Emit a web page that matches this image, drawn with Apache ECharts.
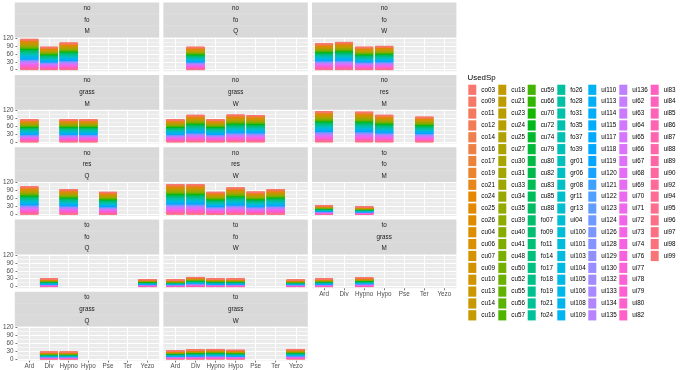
<!DOCTYPE html>
<html>
<head>
<meta charset="utf-8">
<script src="https://cdn.jsdelivr.net/npm/echarts@6/dist/echarts.min.js"></script>
<style>html,body{margin:0;padding:0;background:#fff}#c{width:680px;height:370px}</style>
</head>
<body>
<div id="c"></div>
<script>
// ---------------- DATA ----------------
const CATEGORIES = ['Ard', 'Div', 'Hypno', 'Hypo', 'Pse', 'Ter', 'Yezo'];
const SPECIES = [
  'co03','co09','co11','co12','co14','co16','co17','co19','co21','co24','co25','co26','cu04','cu06','cu07','cu09','cu10','cu13','cu14','cu16',
  'cu18','cu21','cu23','cu24','cu25','cu27','cu30','cu31','cu33','cu34','cu35','cu39','cu40','cu41','cu48','cu50','cu52','cu55','cu56','cu57',
  'cu59','cu66','cu70','cu72','cu74','cu79','cu80','cu82','cu83','cu85','cu88','fo07','fo09','fo11','fo14','fo17','fo18','fo19','fo21','fo24',
  'fo26','fo28','fo31','fo35','fo37','fo39','gr01','gr06','gr08','gr11','gr13','ui04','ui100','ui101','ui103','ui104','ui105','ui106','ui108','ui109',
  'ui110','ui113','ui114','ui115','ui117','ui118','ui119','ui120','ui121','ui122','ui123','ui124','ui126','ui128','ui129','ui130','ui132','ui133','ui134','ui135',
  'ui136','ui62','ui63','ui64','ui65','ui66','ui67','ui68','ui69','ui70','ui71','ui72','ui73','ui74','ui76','ui77','ui78','ui79','ui80','ui82',
  'ui83','ui84','ui85','ui86','ui87','ui88','ui89','ui90','ui92','ui94','ui95','ui96','ui97','ui98','ui99'
];
const PANEL_CUT    = ['no','no','no','no','no','no','no','no','to','to','to','to','to','to'];
const PANEL_HAB    = ['fo','fo','fo','grass','grass','res','res','res','fo','fo','fo','grass','grass','grass'];
const PANEL_SEASON = ['M','Q','W','M','W','M','Q','W','M','Q','W','M','Q','W'];
const Y_TICKS = [0, 30, 60, 90, 120];
const Y_MINOR = [15, 45, 75, 105];

// Bar totals per panel, in CATEGORIES order (null = no bar)
const no_fo_M    = [116, 86, 102, null, null, null, null];
const no_fo_Q    = [null, 86, null, null, null, null, null];
const no_fo_W    = [99, 104, 86, 89, null, null, null];
const no_grass_M = [85, null, 85, 85, null, null, null];
const no_grass_W = [85, 102, 85, 103, 101, null, null];
const no_res_M   = [116, null, 114, 102, null, 95, null];
const no_res_Q   = [105, null, 94, null, 84, null, null];
const no_res_W   = [113, 113, 84, 101, 85, 94, null];
const to_fo_M    = [33, null, 28, null, null, null, null];
const to_fo_Q    = [null, 29, null, null, null, null, 27];
const to_fo_W    = [25, 35, 29, 29, null, null, 25];
const to_grass_M = [29, null, 33, null, null, null, null];
const to_grass_Q = [null, 26, 26, null, null, null, null];
const to_grass_W = [30, 34, 36, 33, null, null, 36];
const TOTALS = [no_fo_M, no_fo_Q, no_fo_W, no_grass_M, no_grass_W, no_res_M, no_res_Q, no_res_W,
                to_fo_M, to_fo_Q, to_fo_W, to_grass_M, to_grass_Q, to_grass_W];
// Individual species segments are too thin to read; each bar is split evenly across species.

// ---------------- STYLE / LAYOUT ----------------
const FONT = 'Liberation Sans, Arial, sans-serif';
const LEFT0 = 14.8, PANEL_W = 144.4, GAP_X = 4.2;
const TOP0 = 2.6, STRIP_H = 34.8, PANEL_H = 33.9, ROW_PITCH = 72.3;
const Y_MIN = -6, Y_MAX = 122.5, X_MIN = 0.4, X_MAX = 7.6;
const BAR_W = 0.9 * PANEL_W / (X_MAX - X_MIN);
const LEGEND_X = [468.3, 498.3, 527.7, 557.3, 588.3, 619.3, 650.7];
const LEGEND_ROWS = 20;

function hclHex(h, c, l) {
  const hr = h * Math.PI / 180;
  const U = c * Math.cos(hr), V = c * Math.sin(hr);
  const Xn = 95.047, Yn = 100.0, Zn = 108.883;
  const un = 4 * Xn / (Xn + 15 * Yn + 3 * Zn), vn = 9 * Yn / (Xn + 15 * Yn + 3 * Zn);
  const Y = l > 7.999592 ? Yn * Math.pow((l + 16) / 116, 3) : Yn * l / 903.3;
  const u = U / (13 * l) + un, v = V / (13 * l) + vn;
  const X = 9 * Y * u / (4 * v);
  const Z = -X / 3 - 5 * Y + 3 * Y / v;
  const x = X / 100, y = Y / 100, z = Z / 100;
  const lin = [
    3.240479 * x - 1.537150 * y - 0.498535 * z,
    -0.969256 * x + 1.875992 * y + 0.041556 * z,
    0.055648 * x - 0.204043 * y + 1.057311 * z
  ];
  return '#' + lin.map(t => {
    t = t > 0.00304 ? 1.055 * Math.pow(t, 1 / 2.4) - 0.055 : 12.92 * t;
    t = Math.max(0, Math.min(1, t));
    return Math.round(t * 255).toString(16).padStart(2, '0');
  }).join('');
}
const COLORS = SPECIES.map((s, i) => hclHex(15 + 360 * i / SPECIES.length, 100, 65));

const chart = echarts.init(document.getElementById('c'), null, { renderer: 'canvas' });
const grids = [], xAxes = [], yAxes = [], series = [], graphics = [];
const tickPos = CATEGORIES.map((c, i) => i + 1);

TOTALS.forEach((tot, p) => {
  const col = p % 3, row = Math.floor(p / 3);
  const left = LEFT0 + col * (PANEL_W + GAP_X);
  const stripTop = TOP0 + row * ROW_PITCH;
  const top = stripTop + STRIP_H;
  const isBottom = p + 3 >= TOTALS.length;
  const isLeft = col === 0;

  grids.push({ left, top, width: PANEL_W, height: PANEL_H, show: true, backgroundColor: '#EBEBEB', borderWidth: 0 });
  xAxes.push({
    gridIndex: p, type: 'value', min: X_MIN, max: X_MAX,
    axisLine: { show: false, onZero: false }, splitLine: { show: false },
    axisTick: { show: isBottom, customValues: tickPos, length: 2, lineStyle: { color: '#333333', width: 0.7 } },
    axisLabel: { show: isBottom, customValues: tickPos, formatter: v => CATEGORIES[Math.round(v) - 1],
      fontSize: 6.3, color: '#4D4D4D', margin: 2.8, fontFamily: FONT }
  });
  yAxes.push({
    gridIndex: p, type: 'value', min: Y_MIN, max: Y_MAX,
    axisLine: { show: false, onZero: false }, splitLine: { show: false },
    axisTick: { show: isLeft, customValues: Y_TICKS, length: 2, lineStyle: { color: '#333333', width: 0.7 } },
    axisLabel: { show: isLeft, customValues: Y_TICKS, fontSize: 6.3, color: '#4D4D4D', margin: 4, fontFamily: FONT }
  });

  const ml = [];
  Y_MINOR.forEach(v => ml.push({ yAxis: v, lineStyle: { color: '#FFFFFF', width: 0.5, type: 'solid' } }));
  Y_TICKS.forEach(v => ml.push({ yAxis: v, lineStyle: { color: '#FFFFFF', width: 1, type: 'solid' } }));
  tickPos.forEach(v => ml.push({ xAxis: v, lineStyle: { color: '#FFFFFF', width: 1, type: 'solid' } }));
  series.push({
    type: 'line', xAxisIndex: p, yAxisIndex: p, data: [], silent: true, animation: false, z: 1,
    markLine: { silent: true, symbol: 'none', animation: false, z: 1, label: { show: false },
      emphasis: { disabled: true }, data: ml }
  });

  // data rows are [value, position] so the stacked dimension is the value (y) one
  const present = [];
  tot.forEach((t, k) => { if (t != null) present.push([t, k + 1]); });
  for (let i = SPECIES.length - 1; i >= 0; i--) {
    series.push({
      type: 'bar', name: SPECIES[i], xAxisIndex: p, yAxisIndex: p, stack: 'p' + p,
      barWidth: BAR_W, silent: true, animation: false, z: 10, zlevel: 1,
      encode: { x: 1, y: 0 },
      itemStyle: { color: COLORS[i], borderColor: COLORS[i], borderWidth: 0.6 },
      data: present.map(d => [d[0] / SPECIES.length, d[1]])
    });
  }

  // strip
  graphics.push({ type: 'rect', shape: { x: left, y: stripTop, width: PANEL_W, height: STRIP_H },
    style: { fill: '#D9D9D9' }, silent: true });
  [1, 2].forEach(k => graphics.push({ type: 'line',
    shape: { x1: left, y1: stripTop + STRIP_H * k / 3, x2: left + PANEL_W, y2: stripTop + STRIP_H * k / 3 },
    style: { stroke: '#E3E3E3', lineWidth: 0.6 }, silent: true }));
  [PANEL_CUT[p], PANEL_HAB[p], PANEL_SEASON[p]].forEach((txt, k) => graphics.push({
    type: 'text', x: left + PANEL_W / 2, y: stripTop + STRIP_H * (k + 0.5) / 3, silent: true,
    style: { text: txt, fill: '#1A1A1A', font: '6.3px ' + FONT, textAlign: 'center', textVerticalAlign: 'middle' }
  }));
});

graphics.push({ type: 'text', x: 467.5, y: 77.5, silent: true,
  style: { text: 'UsedSp', fill: '#000000', font: '7.9px ' + FONT, textAlign: 'left', textVerticalAlign: 'middle' } });

const legends = LEGEND_X.map((x, c) => ({
  show: true, orient: 'vertical', left: x, top: 84.7, padding: 0,
  itemWidth: 8, itemHeight: 10.2, itemGap: 1.67, icon: 'rect', selectedMode: false,
  itemStyle: { borderWidth: 0 },
  data: SPECIES.slice(c * LEGEND_ROWS, (c + 1) * LEGEND_ROWS),
  textStyle: { fontSize: 6.3, color: '#000000', fontFamily: FONT }
}));

chart.setOption({
  animation: false,
  backgroundColor: '#FFFFFF',
  grid: grids, xAxis: xAxes, yAxis: yAxes, series: series,
  legend: legends, graphic: graphics
});
</script>
</body>
</html>
